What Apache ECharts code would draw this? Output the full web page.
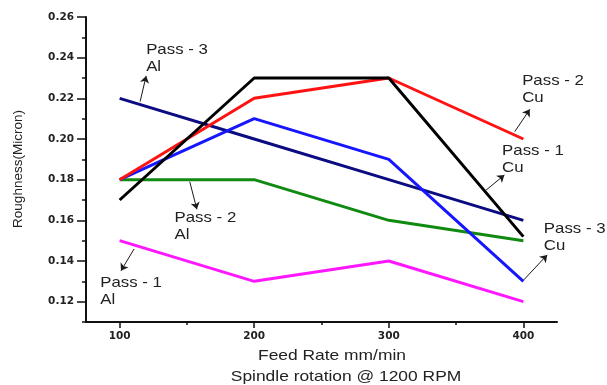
<!DOCTYPE html>
<html>
<head>
<meta charset="utf-8">
<script src="https://cdn.jsdelivr.net/npm/echarts@6/dist/echarts.min.js"></script>
<style>
  html, body { margin: 0; padding: 0; background: #fff; }
  #chart { width: 607px; height: 385px; }
</style>
</head>
<body>
<div id="chart"></div>
<script>
// feed rate, mm/min
const feedRates = [100, 200, 300, 400];

// roughness values
const pass1Cu = [0.17, 0.23, 0.23, 0.152];
const pass2Cu = [0.18, 0.22, 0.23, 0.20];
const pass3Cu = [0.18, 0.21, 0.19, 0.13];
const pass3Al = [0.22, 0.20, 0.18, 0.16];
const pass2Al = [0.18, 0.18, 0.16, 0.15];
const pass1Al = [0.15, 0.13, 0.14, 0.12];

const xMajorTicks = [100, 150, 200, 250, 300, 350, 400];
const xLabels = [100, 200, 300, 400];
const yMajorTicks = [0.12, 0.14, 0.16, 0.18, 0.20, 0.22, 0.24, 0.26];
const yMinorTicks = [0.11, 0.13, 0.15, 0.17, 0.19, 0.21, 0.23, 0.25];

// annotation text anchors (left edge, middle) in data units
const noteTexts = ['Pass - 3\nAl', 'Pass - 2\nAl', 'Pass - 1\nAl', 'Pass - 2\nCu', 'Pass - 1\nCu', 'Pass - 3\nCu'];
const notePos = [[119.7, 0.2396], [140.8, 0.1569], [85.6, 0.125], [399.1, 0.2244], [384.2, 0.1898], [415.2, 0.1516]];
// arrows: tail on the line -> head near the text
const arrowFrom = [[115.2, 0.2184], [152.1, 0.1790], [110.7, 0.1459], [393.6, 0.2036], [371.8, 0.1746], [400.3, 0.1307]];
const arrowTo = [[119.7, 0.2310], [157.4, 0.1654], [101.0, 0.1352], [404.8, 0.2146], [385.9, 0.1823], [417.7, 0.1430]];

const FONT = '"Liberation Sans", Arial, sans-serif';

const pairs = (ys) => feedRates.map((x, i) => [x, ys[i]]);

const lineSeries = (name, ys, color) => ({
  name: name,
  type: 'line',
  data: pairs(ys),
  symbol: 'none',
  lineStyle: { color: color, width: 3 },
  itemStyle: { color: color },
  z: 3
});

const chart = echarts.init(document.getElementById('chart'));

chart.setOption({
  animation: false,
  backgroundColor: '#ffffff',
  grid: { left: 86, right: 50, top: 17, bottom: 63 },
  xAxis: [{
    type: 'value',
    min: 75,
    max: 425,
    axisLine: { show: true, lineStyle: { color: '#111', width: 2 } },
    axisTick: { show: true, length: 6, customValues: xLabels, lineStyle: { color: '#111', width: 1.5 } },
    axisLabel: {
      customValues: xLabels,
      margin: 9,
      color: '#222',
      fontSize: 10.5,
      fontWeight: 'bold',
      fontFamily: '"DejaVu Sans", sans-serif'
    },
    splitLine: { show: false }
  }, {
    type: 'value',
    min: 75,
    max: 425,
    position: 'bottom',
    axisLine: { show: false },
    axisTick: { show: true, length: 3, customValues: [150, 250, 350], lineStyle: { color: '#111', width: 1.5 } },
    axisLabel: { show: false },
    splitLine: { show: false }
  }],
  yAxis: [{
    type: 'value',
    min: 0.11,
    max: 0.26,
    axisLine: { show: true, lineStyle: { color: '#111', width: 2 } },
    axisTick: { show: true, length: 9, customValues: yMajorTicks, lineStyle: { color: '#111', width: 1.5 } },
    axisLabel: {
      customValues: yMajorTicks,
      margin: 12,
      color: '#222',
      fontSize: 10.5,
      fontWeight: 'bold',
      fontFamily: '"DejaVu Sans", sans-serif',
      formatter: (v) => v.toFixed(2)
    },
    splitLine: { show: false }
  }, {
    type: 'value',
    min: 0.11,
    max: 0.26,
    position: 'left',
    axisLine: { show: false },
    axisTick: { show: true, length: 4, customValues: yMinorTicks, lineStyle: { color: '#111', width: 1.5 } },
    axisLabel: { show: false },
    splitLine: { show: false }
  }],
  series: [
    lineSeries('Pass - 3 Al', pass3Al, '#0c0c82'),
    lineSeries('Pass - 2 Al', pass2Al, '#118a11'),
    lineSeries('Pass - 1 Al', pass1Al, '#ff18ff'),
    lineSeries('Pass - 3 Cu', pass3Cu, '#1616ff'),
    lineSeries('Pass - 2 Cu', pass2Cu, '#ff1212'),
    lineSeries('Pass - 1 Cu', pass1Cu, '#000000'),
    {
      name: 'arrows',
      type: 'line',
      data: [],
      markLine: {
        silent: true,
        symbol: ['none', 'arrow'],
        symbolSize: 7,
        label: { show: false },
        lineStyle: { color: '#1a1a1a', width: 1, type: 'solid' },
        data: arrowFrom.map((p, i) => [{ coord: p }, { coord: arrowTo[i] }])
      }
    }
  ]
});

// text elements: annotations placed through the grid's scales, plus axis titles
const graphics = noteTexts.map((t, i) => {
  const p = chart.convertToPixel({ gridIndex: 0 }, notePos[i]);
  return {
    type: 'text',
    x: p[0],
    y: p[1],
    scaleX: 1.16,
    style: {
      text: t,
      x: 0,
      y: 0,
      fill: '#222',
      font: '14.5px ' + FONT,
      lineHeight: 17,
      textAlign: 'left',
      textVerticalAlign: 'middle'
    },
    z: 10
  };
});

graphics.push({
  type: 'text',
  x: 18,
  y: 169,
  rotation: Math.PI / 2,
  style: {
    text: 'Roughness(Micron)',
    fill: '#222',
    font: '13.5px ' + FONT,
    textAlign: 'center',
    textVerticalAlign: 'middle'
  }
});
graphics.push({
  type: 'text',
  x: 332,
  y: 356,
  scaleX: 1.2,
  style: {
    text: 'Feed Rate mm/min',
    fill: '#222',
    font: '14.5px ' + FONT,
    textAlign: 'center',
    textVerticalAlign: 'middle'
  }
});
graphics.push({
  type: 'text',
  x: 346,
  y: 377,
  scaleX: 1.2,
  style: {
    text: 'Spindle rotation @ 1200 RPM',
    fill: '#222',
    font: '14.5px ' + FONT,
    textAlign: 'center',
    textVerticalAlign: 'middle'
  }
});

chart.setOption({ graphic: graphics });
</script>
</body>
</html>
